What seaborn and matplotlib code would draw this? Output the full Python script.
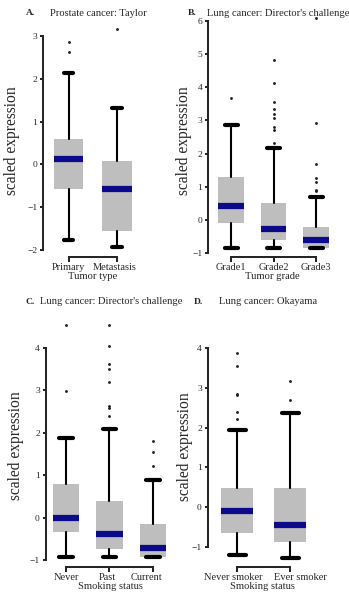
import matplotlib
matplotlib.use("Agg")
import matplotlib.pyplot as plt
import matplotlib.transforms as mtransforms
import seaborn as sns

# ---------------- data ----------------
A_cats = ["Primary", "Metastasis"]
A_med = [0.12, -0.58]
A_q1 = [-0.58, -1.56]
A_q3 = [0.60, 0.08]
A_lo = [-1.77, -1.94]
A_hi = [2.13, 1.31]
A_fliers = [[2.86, 2.62], [3.17]]

B_cats = ["Grade1", "Grade2", "Grade3"]
B_med = [0.42, -0.27, -0.61]
B_q1 = [-0.08, -0.59, -0.84]
B_q3 = [1.29, 0.51, -0.22]
B_lo = [-0.84, -0.84, -0.85]
B_hi = [2.86, 2.16, 0.69]
B_fliers = [[3.69],
            [4.83, 4.14, 3.54, 3.33, 3.20, 3.06, 2.81, 2.71, 2.32],
            [6.08, 2.91, 1.69, 1.27, 1.15, 0.90, 0.86]]

C_cats = ["Never", "Past", "Current"]
C_med = [0.00, -0.39, -0.72]
C_q1 = [-0.33, -0.73, -0.92]
C_q3 = [0.79, 0.39, -0.16]
C_lo = [-0.92, -0.92, -0.92]
C_hi = [1.87, 2.08, 0.90]
C_fliers = [[4.54, 2.99],
            [4.55, 4.05, 3.63, 3.50, 3.19, 2.64, 2.58, 2.41],
            [1.82, 1.54, 1.21]]

D_cats = ["Never smoker", "Ever smoker"]
D_med = [-0.11, -0.45]
D_q1 = [-0.65, -0.88]
D_q3 = [0.47, 0.47]
D_lo = [-1.21, -1.28]
D_hi = [1.94, 2.37]
D_fliers = [[3.87, 3.55, 2.85, 2.81, 2.40, 2.22], [3.18, 2.70]]

# ---------------- style ----------------
sns.set_style("ticks")
plt.rcParams['font.family'] = ['Liberation Serif', 'DejaVu Serif']
plt.rcParams['axes.linewidth'] = 1.45

W, H = 349, 596
fig = plt.figure(figsize=(W / 100, H / 100), dpi=100)

GRAY = "#bebebe"
NAVY = "#0a0a8a"


def px_axes(left, bottom_px, width, top_px):
    return fig.add_axes([left / W, (H - bottom_px) / H, width / W, (bottom_px - top_px) / H])


def panel(ax, cats, med, q1, q3, lo, hi, fliers, xlim, ylim, yticks, xlabel,
          capw, offset, ylab_xy, label_shift):
    stats = []
    for i, c in enumerate(cats):
        stats.append(dict(label=c, med=med[i], q1=q1[i], q3=q3[i],
                          whislo=lo[i], whishi=hi[i], fliers=fliers[i]))
    ax.bxp(stats, positions=list(range(len(cats))), widths=0.6,
           capwidths=capw, patch_artist=True, showfliers=True,
           boxprops=dict(facecolor=GRAY, edgecolor=GRAY, linewidth=0),
           medianprops=dict(color=NAVY, linewidth=4.5, solid_capstyle='butt'),
           whiskerprops=dict(color='black', linewidth=1.5),
           capprops=dict(color='black', linewidth=3.0, solid_capstyle='round'),
           flierprops=dict(marker='o', markersize=1.05, markerfacecolor='#222222',
                           markeredgecolor='#222222', linestyle='none'))
    ax.set_xlim(*xlim)
    ax.set_ylim(*ylim)
    ax.set_yticks(yticks)
    ax.set_yticklabels([f"{t:d}".replace('-', '\u2212') for t in yticks])
    ax.set_xticks(list(range(len(cats))))
    ax.set_xticklabels(cats)
    ax.tick_params(axis='y', length=2.2, width=1.45, labelsize=6.8, pad=2)
    ax.tick_params(axis='x', length=3.6, width=1.45, labelsize=7.5, pad=1)
    sns.despine(ax=ax, trim=True)
    ax.spines['bottom'].set_position(('outward', offset))
    for lab, dx in zip(ax.get_xticklabels(), label_shift):
        lab.set_transform(lab.get_transform() +
                          mtransforms.ScaledTranslation(dx / 100, 0, fig.dpi_scale_trans))
    ax.set_xlabel(xlabel, fontsize=7.6, labelpad=0)
    ax.set_ylabel("scaled expression", fontsize=11.2)
    ax.yaxis.label.set_va('center')
    ax.yaxis.label.set_rotation_mode('anchor')
    ax.yaxis.set_label_coords(ylab_xy[0] / W, (H - ylab_xy[1]) / H,
                              transform=fig.transFigure)


# Panel A
axA = px_axes(43, 250, 98.3, 25.3)
panel(axA, A_cats, A_med, A_q1, A_q3, A_lo, A_hi, A_fliers,
      (-0.526, 1.5), (-2, 3.25), [-2, -1, 0, 1, 2, 3], "Tumor type",
      0.2, 5.0, (12, 141), [0, -2])

# Panel B
axB = px_axes(208, 253.2, 129.5, 14.2)
panel(axB, B_cats, B_med, B_q1, B_q3, B_lo, B_hi, B_fliers,
      (-0.546, 2.5), (-1, 6.2), [-1, 0, 1, 2, 3, 4, 5, 6], "Tumor grade",
      0.3, 2.5, (184, 141), [0, 0, 0])

# Panel C
axC = px_axes(45.7, 560.1, 128.9, 318.4)
panel(axC, C_cats, C_med, C_q1, C_q3, C_lo, C_hi, C_fliers,
      (-0.47, 2.5), (-1, 4.7), [-1, 0, 1, 2, 3, 4], "Smoking status",
      0.32, 4.7, (16, 446), [0, -2, -6])

# Panel D
axD = px_axes(207.7, 560.6, 109.2, 346.2)
panel(axD, D_cats, D_med, D_q1, D_q3, D_lo, D_hi, D_fliers,
      (-0.556, 1.5), (-1.35, 4.05), [-1, 0, 1, 2, 3, 4], "Smoking status",
      0.32, 4.3, (185, 447), [-4, 10])

# Titles
def title(letter, lx, text, tx, y, ha='left'):
    fig.text(lx / W, (H - y) / H, letter, fontsize=6.8, fontweight='bold',
             ha='left', va='center')
    fig.text(tx / W, (H - y) / H, text, fontsize=7.6, ha=ha, va='center')

title("A.", 26, "Prostate cancer: Taylor", 50, 13)
title("B.", 188, "Lung cancer: Director's challenge", 207, 13)
title("C.", 26, "Lung cancer: Director's challenge", 40, 302)
title("D.", 194, "Lung cancer: Okayama", 219, 302)

fig.savefig("out.png", dpi=100)
